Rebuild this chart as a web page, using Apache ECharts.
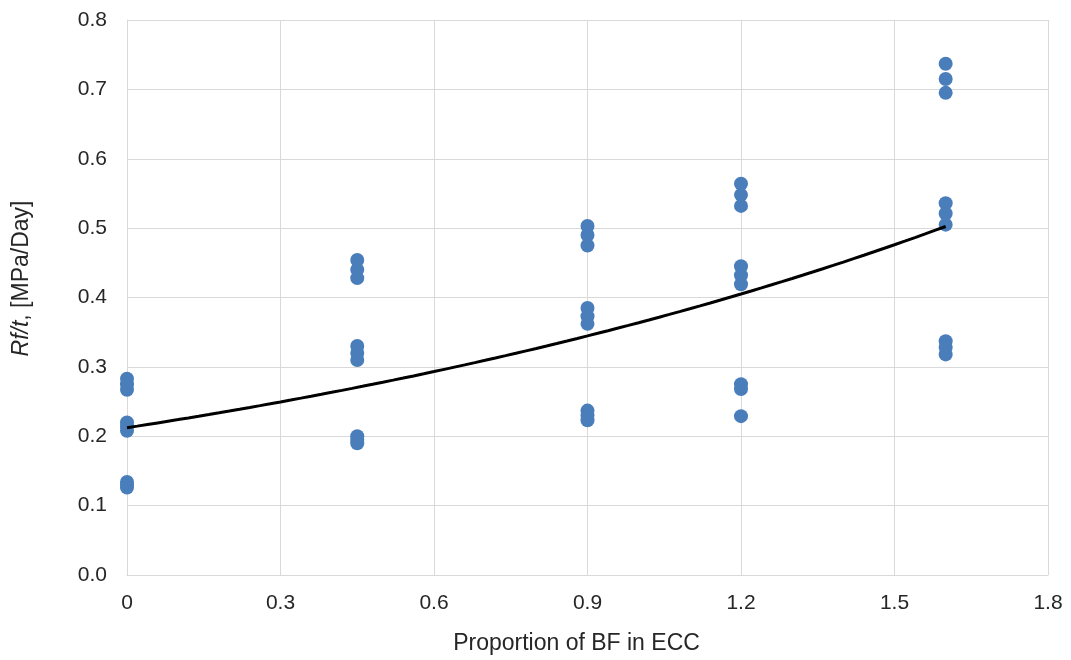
<!DOCTYPE html>
<html>
<head>
<meta charset="utf-8">
<script src="https://cdn.jsdelivr.net/npm/echarts@6/dist/echarts.min.js"></script>
<style>
  html, body { margin: 0; padding: 0; background: #fff; }
  #chart { width: 1071px; height: 660px; }
</style>
</head>
<body>
<div id="chart"></div>
<script>
// BF proportion for each measured group
const bfLevels = [0, 0.45, 0.9, 1.2, 1.6];

// Rf/t values (MPa/Day) measured at each BF proportion
const rateAt0 = [0.283, 0.275, 0.267, 0.220, 0.214, 0.208, 0.134, 0.130, 0.126];
const rateAt045 = [0.454, 0.440, 0.428, 0.330, 0.320, 0.310, 0.200, 0.195, 0.190];
const rateAt09 = [0.503, 0.490, 0.475, 0.385, 0.373, 0.362, 0.237, 0.230, 0.223];
const rateAt12 = [0.564, 0.548, 0.532, 0.445, 0.432, 0.419, 0.275, 0.268, 0.229];
const rateAt16 = [0.737, 0.715, 0.695, 0.536, 0.521, 0.505, 0.337, 0.328, 0.318];

const groups = [rateAt0, rateAt045, rateAt09, rateAt12, rateAt16];

// Axis tick labels
const xTickLabels = ['0', '0.3', '0.6', '0.9', '1.2', '1.5', '1.8'];
const yTickLabels = ['0.0', '0.1', '0.2', '0.3', '0.4', '0.5', '0.6', '0.7', '0.8'];

// Scatter points
const points = [];
groups.forEach((vals, i) => vals.forEach(v => points.push([bfLevels[i], v])));

// Exponential trendline: least squares fit of ln(y) against x
let n = points.length, sx = 0, sy = 0, sxx = 0, sxy = 0;
points.forEach(([x, y]) => {
  const ly = Math.log(y);
  sx += x; sy += ly; sxx += x * x; sxy += x * ly;
});
const b = (n * sxy - sx * sy) / (n * sxx - sx * sx);
const a = Math.exp((sy - b * sx) / n);
const trend = [];
for (let i = 0; i <= 80; i++) {
  const x = 1.6 * i / 80;
  trend.push([x, a * Math.exp(b * x)]);
}

const textColor = '#262626';
const font = 'Liberation Sans, Arial, sans-serif';

const chart = echarts.init(document.getElementById('chart'));
chart.setOption({
  animation: false,
  backgroundColor: '#ffffff',
  grid: { left: 127, right: 23, top: 20, bottom: 84, containLabel: false },
  xAxis: {
    type: 'value',
    min: 0, max: 1.8, interval: 0.3,
    name: 'Proportion of BF in ECC',
    nameLocation: 'middle',
    nameGap: 57,
    nameTextStyle: { color: textColor, fontSize: 23, fontFamily: font, padding: [0, 22, 0, 0] },
    axisLine: { show: true, lineStyle: { color: '#d9d9d9', width: 1 } },
    axisTick: { show: false },
    axisLabel: {
      color: textColor, fontSize: 21, fontFamily: font, margin: 18,
      formatter: (v) => xTickLabels[Math.round(v / 0.3)]
    },
    splitLine: { show: true, lineStyle: { color: '#d9d9d9', width: 1 } }
  },
  yAxis: {
    type: 'value',
    min: 0, max: 0.8, interval: 0.1,
    name: '{i|Rf/t}, [MPa/Day]',
    nameLocation: 'middle',
    nameGap: 94,
    nameRotate: 90,
    nameTextStyle: {
      color: textColor, fontSize: 23, fontFamily: font, padding: [0, 0, 0, 38],
      rich: {
        i: { fontStyle: 'italic', color: textColor, fontSize: 23, fontFamily: font }
      }
    },
    axisLine: { show: true, lineStyle: { color: '#d9d9d9', width: 1 } },
    axisTick: { show: false },
    axisLabel: {
      color: textColor, fontSize: 21, fontFamily: font, margin: 20,
      formatter: (v) => yTickLabels[Math.round(v * 10)]
    },
    splitLine: { show: true, lineStyle: { color: '#d9d9d9', width: 1 } }
  },
  series: [
    {
      type: 'scatter',
      data: points,
      symbol: 'circle',
      symbolSize: 14,
      itemStyle: { color: '#4a7ebb', opacity: 1 },
      z: 2
    },
    {
      type: 'line',
      data: trend,
      showSymbol: false,
      smooth: false,
      lineStyle: { color: '#000000', width: 3 },
      z: 3
    }
  ]
});
</script>
</body>
</html>
